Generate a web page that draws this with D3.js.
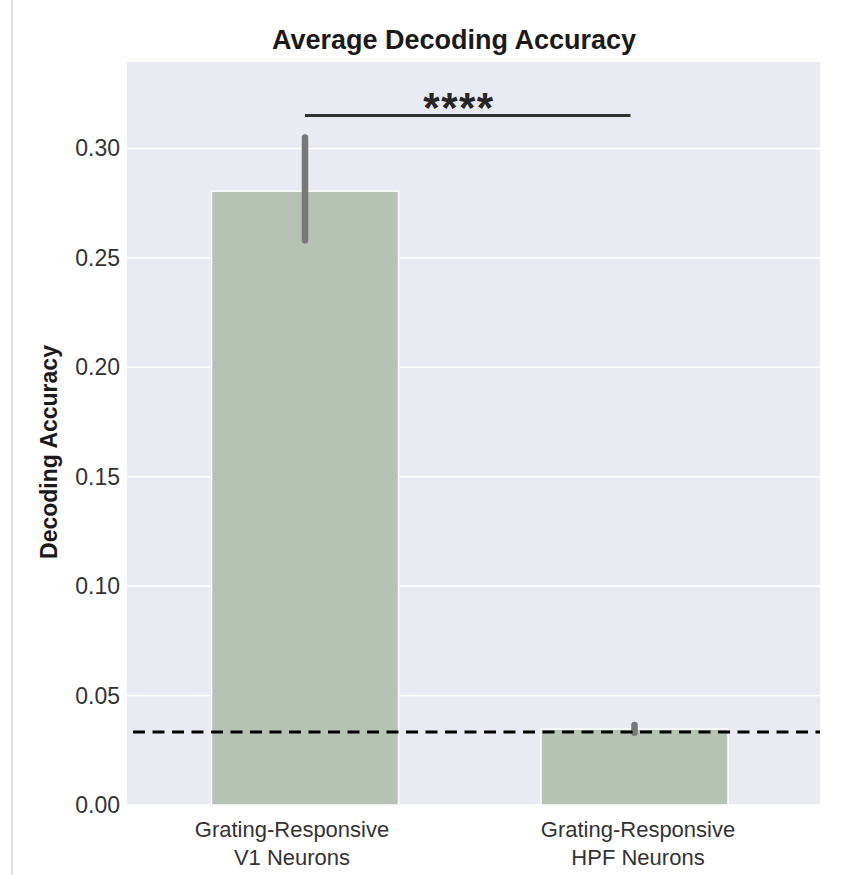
<!DOCTYPE html>
<html>
<head>
<meta charset="utf-8">
<script src="https://cdn.jsdelivr.net/npm/d3@7"></script>
<style>
  html, body { margin: 0; padding: 0; background: #ffffff; }
  svg { display: block; font-family: "Liberation Sans", Arial, Helvetica, sans-serif; }
</style>
</head>
<body>
<svg id="chart" width="865" height="875"></svg>
<script>
// Decoding accuracy per neuron population
const categories = ["V1", "HPF"];
const categoryLabels = [
  ["Grating-Responsive", "V1 Neurons"],
  ["Grating-Responsive", "HPF Neurons"]
];
const meanAccuracy = [0.2805, 0.0347];
const ciLow = [0.258, 0.0330];
const ciHigh = [0.305, 0.0365];
const chanceLevel = 0.0333;            // 1 / 30 classes
const yTicks = [0.00, 0.05, 0.10, 0.15, 0.20, 0.25, 0.30];
const yTickLabels = ["0.00", "0.05", "0.10", "0.15", "0.20", "0.25", "0.30"];
const sigLevel = 0.315;
const sigLabel = "****";

const svg = d3.select("#chart");
const panel = { left: 127, right: 820, top: 62, bottom: 805 };

const y = d3.scaleLinear().domain([0, 0.3395]).range([panel.bottom, panel.top]);
const x = d3.scalePoint().domain(categories).range([305, 634.5]);
const xLabel = d3.scalePoint().domain(categories).range([292, 638]);
const barWidth = 187;

// thin frame line at the far left of the figure
svg.append("line")
  .attr("x1", 12).attr("x2", 12).attr("y1", 0).attr("y2", 875)
  .attr("stroke", "#d9d9d9").attr("stroke-width", 1.5);

// panel background
svg.append("rect")
  .attr("x", panel.left).attr("y", panel.top)
  .attr("width", panel.right - panel.left).attr("height", panel.bottom - panel.top)
  .attr("fill", "#eaeaf2");

// horizontal grid
svg.append("g").selectAll("line").data(yTicks).join("line")
  .attr("x1", panel.left).attr("x2", panel.right)
  .attr("y1", d => y(d)).attr("y2", d => y(d))
  .attr("stroke", "#ffffff").attr("stroke-width", 1.6);

// y tick labels
svg.append("g").selectAll("text").data(yTicks).join("text")
  .attr("x", 120).attr("y", d => y(d))
  .attr("dy", "0.35em")
  .attr("text-anchor", "end")
  .attr("font-size", 23)
  .attr("fill", "#333333")
  .text((d, i) => yTickLabels[i]);

// bars
svg.append("g").selectAll("rect").data(categories).join("rect")
  .attr("x", d => x(d) - barWidth / 2)
  .attr("width", barWidth)
  .attr("y", (d, i) => y(meanAccuracy[i]))
  .attr("height", (d, i) => y(0) - y(meanAccuracy[i]))
  .attr("fill", "#b5c2b4")
  .attr("stroke", "#ffffff").attr("stroke-width", 1.5);

// confidence intervals
svg.append("g").selectAll("line").data(categories).join("line")
  .attr("x1", d => x(d)).attr("x2", d => x(d))
  .attr("y1", (d, i) => y(ciLow[i])).attr("y2", (d, i) => y(ciHigh[i]))
  .attr("stroke", "#787878").attr("stroke-width", 6.5)
  .attr("stroke-linecap", "round");

// chance level
svg.append("line")
  .attr("x1", 133).attr("x2", panel.right)
  .attr("y1", y(chanceLevel)).attr("y2", y(chanceLevel))
  .attr("stroke", "#000000").attr("stroke-width", 3)
  .attr("stroke-dasharray", "12,7.5");

// significance bracket
svg.append("line")
  .attr("x1", x(categories[0])).attr("x2", x(categories[1]) - 4)
  .attr("y1", y(sigLevel)).attr("y2", y(sigLevel))
  .attr("stroke", "#333333").attr("stroke-width", 3);
svg.append("text")
  .attr("x", 459).attr("y", y(sigLevel) + 6)
  .attr("text-anchor", "middle")
  .attr("font-size", 42)
  .attr("font-weight", "bold")
  .attr("letter-spacing", 1.5)
  .attr("fill", "#262626")
  .text(sigLabel);

// x tick labels
const xl = svg.append("g").selectAll("text").data(categories).join("text")
  .attr("text-anchor", "middle")
  .attr("font-size", 22)
  .attr("fill", "#333333");
xl.selectAll("tspan").data((d, i) => categoryLabels[i].map(t => ({ t, c: d }))).join("tspan")
  .attr("x", d => xLabel(d.c))
  .attr("y", (d, j) => 837 + j * 28)
  .text(d => d.t);

// y axis title
svg.append("text")
  .attr("transform", "translate(57,452) rotate(-90)")
  .attr("text-anchor", "middle")
  .attr("font-size", 23)
  .attr("font-weight", "bold")
  .attr("fill", "#1a1a1a")
  .text("Decoding Accuracy");

// chart title
svg.append("text")
  .attr("x", 454).attr("y", 49)
  .attr("text-anchor", "middle")
  .attr("font-size", 27)
  .attr("font-weight", "bold")
  .attr("fill", "#1a1a1a")
  .text("Average Decoding Accuracy");
</script>
</body>
</html>
